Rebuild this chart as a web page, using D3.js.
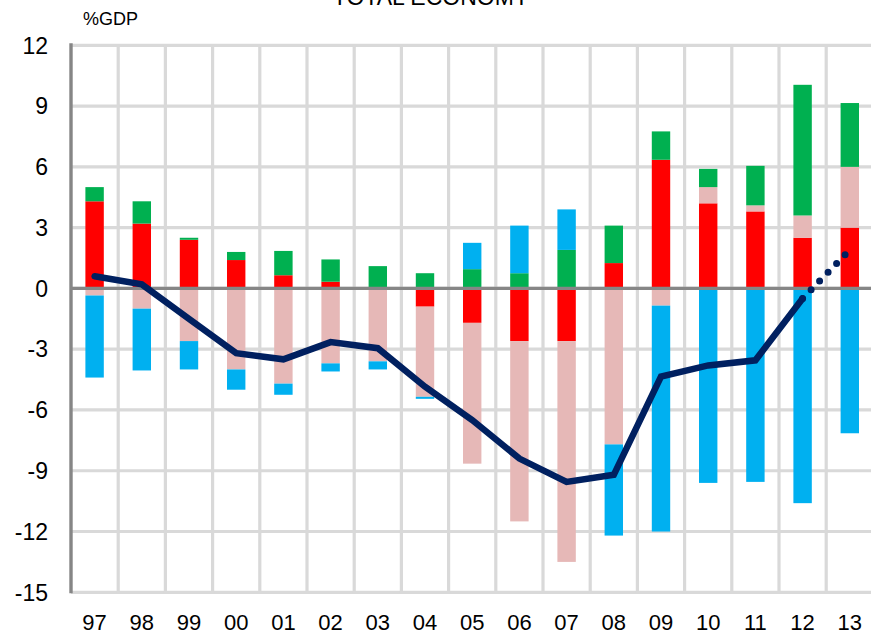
<!DOCTYPE html>
<html>
<head>
<meta charset="utf-8">
<script src="https://cdn.jsdelivr.net/npm/d3@7/dist/d3.min.js"></script>
<style>
  html, body { margin: 0; padding: 0; background: #fff; }
  svg { display: block; font-family: "Liberation Sans", Arial, sans-serif; }
</style>
</head>
<body>
<svg id="chart" width="871" height="635"></svg>
<script>
// ---- data (% of GDP) ----
const years = ["97","98","99","00","01","02","03","04","05","06","07","08","09","10","11","12","13"];
const households   = [4.3, 3.2, 2.4, 1.4, 0.65, 0.33, 0, -0.9, -1.7, -2.6, -2.6, 1.25, 6.35, 4.2, 3.8, 2.5, 3.0];
const corporations = [-0.35, -1.0, -2.6, -4.0, -4.7, -3.7, -3.6, -4.45, -6.95, -8.9, -10.9, -7.7, -0.85, 0.8, 0.3, 1.1, 3.0];
const financial    = [0.7, 1.1, 0.1, 0.4, 1.2, 1.1, 1.1, 0.75, 0.95, 0.75, 1.9, 1.85, 1.4, 0.9, 1.95, 6.45, 3.15];
const government   = [-4.05, -3.05, -1.4, -1.0, -0.55, -0.4, -0.4, -0.1, 1.3, 2.35, 2.0, -4.5, -11.15, -9.6, -9.55, -10.6, -7.15];
const totalEconomy = [0.6, 0.2, -1.5, -3.2, -3.5, -2.65, -2.95, -4.85, -6.5, -8.4, -9.55, -9.2, -4.35, -3.8, -3.55, -0.5, 1.9];
const forecastFrom = "12";
const yTicks = [12, 9, 6, 3, 0, -3, -6, -9, -12, -15];
const title = "TOTAL ECONOMY";
const unitLabel = "%GDP";

const seriesKeys = ["households", "corporations", "financial", "government"];
const seriesColors = { households: "#ff0000", corporations: "#e6b8b7", financial: "#00b050", government: "#00b0f0" };

// ---- layout ----
const svg = d3.select("#chart");
const plotLeft = 71, plotRight = 873.4, plotTop = 45.3, plotBottom = 592.3;

const x = d3.scaleBand().domain(years).range([plotLeft, plotRight]).padding(0);
const y = d3.scaleLinear().domain([-15, 12]).range([plotBottom, plotTop]);
const barW = x.bandwidth() * 0.39;

const rows = years.map((yr, i) => ({
  year: yr,
  households: households[i],
  corporations: corporations[i],
  financial: financial[i],
  government: government[i]
}));
const stacked = d3.stack().keys(seriesKeys).offset(d3.stackOffsetDiverging)(rows);

// gridlines
const grid = svg.append("g");
grid.selectAll("line.h").data(yTicks).join("line")
  .attr("x1", plotLeft).attr("x2", 871)
  .attr("y1", d => y(d)).attr("y2", d => y(d))
  .attr("stroke", "#d9d9d9").attr("stroke-width", 3.2);
grid.selectAll("line.v").data(years.slice(1)).join("line")
  .attr("x1", d => x(d)).attr("x2", d => x(d))
  .attr("y1", plotTop).attr("y2", plotBottom)
  .attr("stroke", "#d9d9d9").attr("stroke-width", 3.2);

// bars
svg.append("g").selectAll("g").data(stacked).join("g")
  .attr("fill", d => seriesColors[d.key])
  .selectAll("rect").data(d => d).join("rect")
  .attr("x", d => x(d.data.year) + (x.bandwidth() - barW) / 2)
  .attr("width", barW)
  .attr("y", d => y(Math.max(d[0], d[1])))
  .attr("height", d => Math.abs(y(d[0]) - y(d[1])));

// zero line
svg.append("line")
  .attr("x1", plotLeft).attr("x2", 871)
  .attr("y1", y(0)).attr("y2", y(0))
  .attr("stroke", "#868686").attr("stroke-width", 3.3);

// left axis line
svg.append("line")
  .attr("x1", plotLeft).attr("x2", plotLeft)
  .attr("y1", plotTop - 2).attr("y2", plotBottom + 1)
  .attr("stroke", "#868686").attr("stroke-width", 3.4);

// total line
const pts = years.map((yr, i) => ({ year: yr, v: totalEconomy[i] }));
const fi = years.indexOf(forecastFrom);
const lineGen = d3.line().x(d => x(d.year) + x.bandwidth() / 2).y(d => y(d.v));
svg.append("path").datum(pts.slice(0, fi + 1))
  .attr("d", lineGen).attr("fill", "none")
  .attr("stroke", "#002060").attr("stroke-width", 6.5)
  .attr("stroke-linejoin", "miter").attr("stroke-linecap", "round");
svg.append("path").datum(pts.slice(fi))
  .attr("d", lineGen).attr("fill", "none")
  .attr("stroke", "#002060").attr("stroke-width", 7)
  .attr("stroke-linecap", "round").attr("stroke-dasharray", "0 12.2");

// y axis labels
svg.append("g").selectAll("text").data(yTicks).join("text")
  .attr("x", 48).attr("y", d => y(d)).attr("dy", "0.36em")
  .attr("text-anchor", "end").attr("font-size", 23).attr("fill", "#000")
  .text(d => d);

// x axis labels
svg.append("g").selectAll("text").data(years).join("text")
  .attr("x", d => x(d) + x.bandwidth() / 2).attr("y", 630)
  .attr("text-anchor", "middle").attr("font-size", 22).attr("fill", "#000")
  .text(d => d);

// title & unit
svg.append("text").attr("x", 431).attr("y", 5).attr("text-anchor", "middle")
  .attr("font-size", 23).attr("fill", "#000").text(title);
svg.append("text").attr("x", 83).attr("y", 25)
  .attr("font-size", 18).attr("fill", "#000").text(unitLabel);
</script>
</body>
</html>
